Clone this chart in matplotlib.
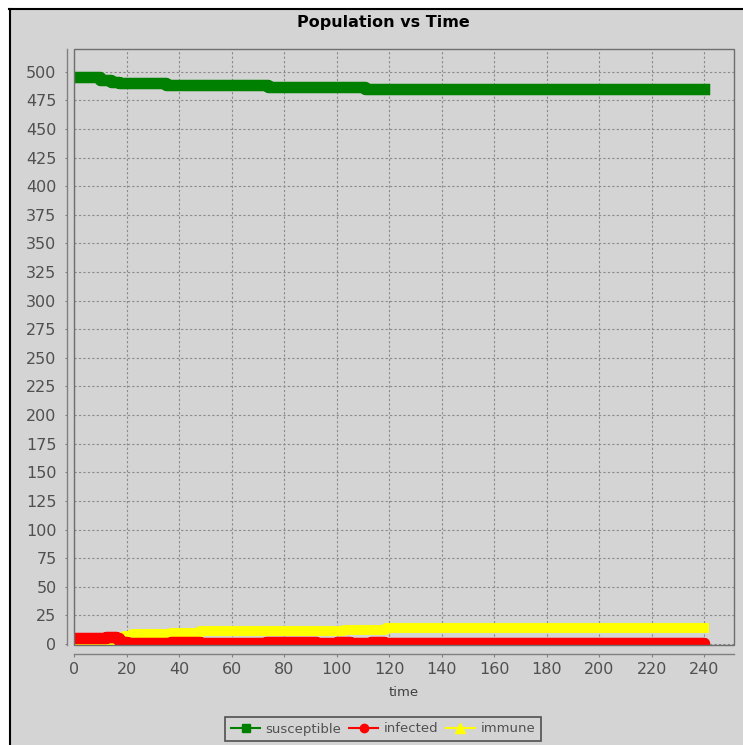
import matplotlib
matplotlib.use("Agg")
import matplotlib.pyplot as plt
from matplotlib.patches import Rectangle
from matplotlib.lines import Line2D

# step data (time of change, value from then on)
sus_t = [0, 10, 14, 17, 35, 74, 111, 240]
sus = [495, 493, 491, 490, 488, 487, 485, 485]

inf_t = [0, 12, 16, 17, 18, 20, 37, 48, 73, 92, 100, 105, 113, 118, 240]
inf = [5, 6, 5, 3, 2, 1, 2, 1, 2, 1, 2, 1, 2, 1, 1]

imm_t = [0, 13, 15, 17, 18, 19, 22, 37, 48, 103, 119, 240]
imm = [0, 1, 0, 3, 5, 7, 9, 10, 11, 12, 14, 14]

x_ticks = list(range(0, 241, 20))
y_ticks = list(range(0, 501, 25))

W, H = 743, 745
BG = "#d4d4d4"
GRID = "#8a8a8a"
TXT = "#505050"

fig = plt.figure(figsize=(W / 100, H / 100), dpi=100)
fig.patch.set_facecolor("white")

# panel background + black border (left/top visible)
fig.patches.append(Rectangle((9 / W, 0), 1, 1 - 8 / H, transform=fig.transFigure,
                             fc=BG, ec="none", zorder=-10))
fig.lines.append(Line2D([9.5 / W, 9.5 / W], [0, 1 - 8.5 / H], transform=fig.transFigure,
                        color="black", lw=1.5))
fig.lines.append(Line2D([9 / W, 1], [1 - 8.5 / H, 1 - 8.5 / H], transform=fig.transFigure,
                        color="black", lw=1.5))


def px(v):
    return v * 72 / 100


left, right, top, bottom = 74, 734, 49, 645
ax = fig.add_axes([left / W, 1 - bottom / H, (right - left) / W, (bottom - top) / H])
ax.set_facecolor(BG)

ax.plot(imm_t, imm, drawstyle="steps-post", color="#ffff00", lw=px(10),
        solid_capstyle="projecting", zorder=3)
ax.plot(inf_t, inf, drawstyle="steps-post", color="#ff0000", lw=px(11.5),
        solid_capstyle="round", zorder=4)
ax.plot(sus_t, sus, drawstyle="steps-post", color="#008000", lw=px(11.5),
        solid_capstyle="projecting", zorder=5)

ax.set_xlim(0, 251.4)
ax.set_ylim(-0.9, 519.8)
ax.set_xticks(x_ticks)
ax.set_yticks(y_ticks)
ax.grid(True, color=GRID, ls=(0, (2, 2)), lw=0.8)
ax.set_axisbelow(True)

for s in ["top", "right"]:
    ax.spines[s].set_visible(False)
ax.spines["left"].set_position(("outward", px(7)))
ax.spines["bottom"].set_position(("outward", px(9)))
for s in ["left", "bottom"]:
    ax.spines[s].set_color("#808080")
    ax.spines[s].set_linewidth(1)
ax.add_patch(Rectangle((0, 0), 1, 1, transform=ax.transAxes, fill=False,
                       ec="#6e6e6e", lw=1, clip_on=False, zorder=6))

ax.tick_params(axis="both", direction="out", length=px(2.5), width=0.8, color="#808080",
               labelcolor=TXT, labelsize=11.5)
ax.tick_params(axis="y", pad=px(8))
ax.tick_params(axis="x", pad=px(6))

fig.text(383 / W, 1 - 22 / H, "Population vs Time", ha="center", va="center",
         fontsize=11.5, fontweight="bold", color="black")
fig.text(404 / W, 1 - 693 / H, "time", ha="center", va="center",
         fontsize=9.5, color="#404040")

handles = [
    Line2D([], [], color="#008000", lw=1.5, marker="s", markersize=6),
    Line2D([], [], color="#ff0000", lw=1.5, marker="o", markersize=6),
    Line2D([], [], color="#ffff00", lw=1.5, marker="^", markersize=7),
]
leg = fig.legend(handles, ["susceptible", "infected", "immune"], loc="center",
                 bbox_to_anchor=(383 / W, 1 - 729 / H), ncol=3, frameon=True,
                 fontsize=9.5, handlelength=2.2, handletextpad=0.4, columnspacing=0.6,
                 borderpad=0.45, fancybox=False, labelcolor=TXT)
leg.get_frame().set_facecolor(BG)
leg.get_frame().set_edgecolor("#303030")
leg.get_frame().set_linewidth(1.2)

fig.savefig("out.png", dpi=100, facecolor=fig.get_facecolor())
